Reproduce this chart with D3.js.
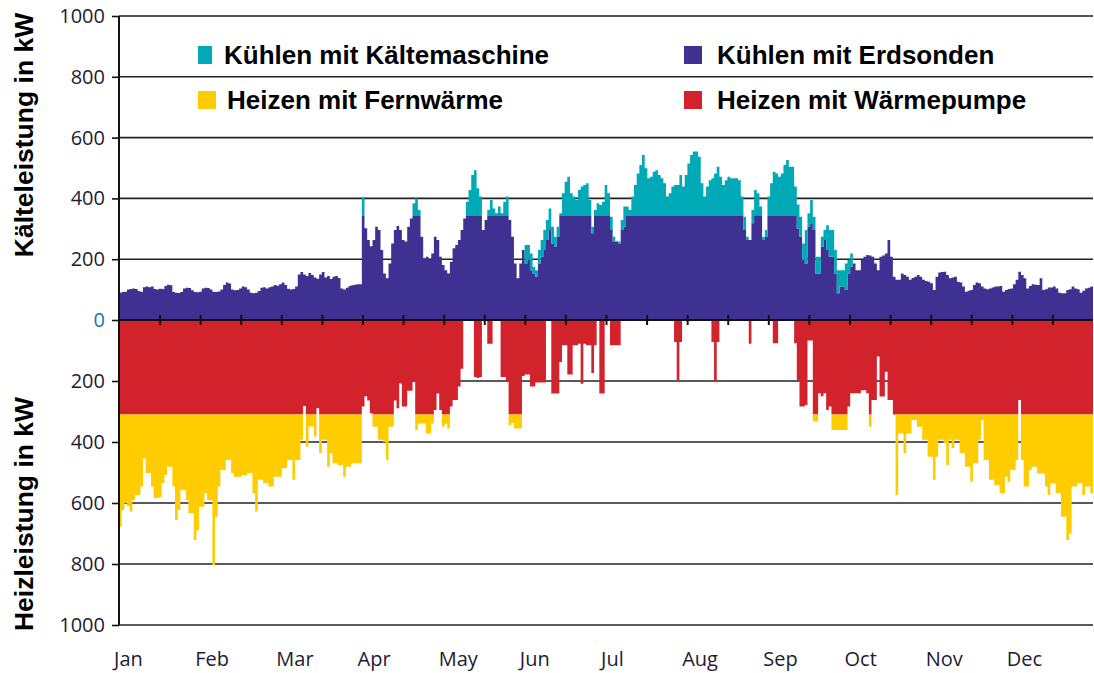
<!DOCTYPE html>
<html>
<head>
<meta charset="utf-8">
<script src="https://cdn.jsdelivr.net/npm/d3@7"></script>
<style>
  body { margin: 0; background: #fff; }
  svg { display: block; }
</style>
</head>
<body>
<svg id="chart"></svg>
<script>
/*
  Kälte- und Heizleistung über das Jahr (Tageswerte, kW)
*/

var months = ["Jan", "Feb", "Mar", "Apr", "May", "Jun", "Jul", "Aug", "Sep", "Oct", "Nov", "Dec"];
var yTicks = [0, 200, 400, 600, 800, 1000];

// Kühlen mit Erdsonden (kW), one value per day
var coolGeo = [
  90,92,93,100,102,104,102,95,93,108,110,108,110,102,100,103,102,112,116,114,92,90,89,92,104,106,105,98,92,91,93,
  104,106,105,100,93,92,94,100,115,123,120,100,98,99,104,110,108,100,90,88,90,95,106,108,104,108,110,115,
  113,118,123,115,103,100,102,110,150,158,150,145,155,148,140,136,150,158,140,145,135,142,145,138,104,100,106,112,114,116,118,
  118,342,302,263,243,263,307,296,230,153,137,186,252,296,309,296,263,258,307,334,342,342,342,274,203,208,197,219,274,263,
  208,181,164,153,192,236,247,263,296,334,342,342,342,342,342,342,296,329,342,342,342,342,342,342,342,342,329,274,186,137,186,
  230,186,197,164,153,142,186,208,230,263,296,252,241,274,342,342,342,342,342,342,342,342,342,342,342,342,285,342,342,342,
  342,342,342,296,258,258,252,296,307,342,342,342,342,342,342,342,342,342,342,342,342,342,342,342,342,342,342,342,342,342,342,
  342,342,342,342,342,342,342,342,342,342,342,342,342,342,342,342,342,342,342,342,342,342,296,263,263,318,342,342,342,263,274,
  342,342,342,342,342,342,342,342,342,342,342,300,274,197,186,307,318,296,153,153,241,263,230,208,208,153,88,110,110,99,
  153,175,186,164,164,197,208,214,212,208,186,164,208,212,219,263,208,142,132,132,153,148,142,132,138,142,148,142,132,128,126,
  121,99,142,156,158,159,148,137,140,142,126,123,110,93,96,99,115,123,121,110,104,101,104,107,110,110,112,93,99,102,
  104,118,132,159,148,137,104,112,118,116,115,137,99,101,107,107,110,104,90,88,88,99,101,110,104,101,90,96,104,106,110
];

// Kühlen mit Kältemaschine (kW), on top of the ground probes
var coolChiller = [
  0,0,0,0,0,0,0,0,0,0,0,0,0,0,0,0,0,0,0,0,0,0,0,0,0,0,0,0,0,0,0,
  0,0,0,0,0,0,0,0,0,0,0,0,0,0,0,0,0,0,0,0,0,0,0,0,0,0,0,0,
  0,0,0,0,0,0,0,0,0,0,0,0,0,0,0,0,0,0,0,0,0,0,0,0,0,0,0,0,0,0,0,
  0,60,0,0,0,0,0,0,0,0,0,0,0,0,0,0,0,0,0,0,42,58,20,0,0,0,0,0,0,0,
  0,0,0,0,0,0,0,0,0,0,47,86,135,151,91,64,0,0,20,53,25,9,31,9,47,64,0,0,0,0,0,
  0,61,50,55,22,22,44,55,66,66,71,55,33,33,9,75,113,129,75,64,53,86,97,102,108,53,22,20,42,36,
  47,102,75,44,16,0,6,33,66,31,20,64,102,140,168,201,157,124,129,146,151,135,124,108,64,75,97,102,102,135,97,
  135,173,201,212,212,195,108,64,97,118,124,140,162,129,102,118,129,124,124,124,118,64,44,11,0,44,86,75,31,11,22,
  64,108,146,140,129,140,168,184,162,162,97,80,66,55,110,44,77,44,55,55,33,33,82,88,88,77,76,54,54,87,
  44,44,0,0,0,0,0,0,0,0,0,0,0,0,0,0,0,0,0,0,0,0,0,0,0,0,0,0,0,0,0,
  0,0,0,0,0,0,0,0,0,0,0,0,0,0,0,0,0,0,0,0,0,0,0,0,0,0,0,0,0,0,
  0,0,0,0,0,0,0,0,0,0,0,0,0,0,0,0,0,0,0,0,0,0,0,0,0,0,0,0,0,0,0
];

// Heizen mit Wärmepumpe (kW)
var heatPump = [
  310,310,310,310,310, 310,310,310,310,310,
  310,310,310,310,310, 310,310,310,310,310,
  310,310,310,310,310, 310,310,310,310,310,
  310,
  310,310,310,310,310, 310,310,310,310,310,
  310,310,310,310,310, 310,310,310,310,310,
  310,310,310,310,310, 310,310,310,
  310,310,310,310,310, 310,310,310,310,310,
  282,310,310,310,310, 289,310,310,310,310,
  310,310,310,310,310, 310,310,310,310,310,
  310,
  310,284,250,264,306, 310,310,310,310,310,
  310,310,310,264,289, 208,284,284,232,232,
  200,310,310,310,310, 310,310,310,295,241,
  295,310,310,310,284, 262,262,218,160,0,
  0,0,0,187,190, 187,0,0,78,78,
  0,0,0,187,187, 200,310,310,310,310,
  310,
  184,179,179,218,218, 205,205,205,205,0,
  0,241,241,241,138, 83,83,179,179,83,
  83,78,209,78,83, 83,174,83,0,241,
  241,0,0,83,83, 83,83,0,0,0,
  0,0,0,0,0, 0,0,0,0,0,
  0,0,0,0,0, 0,0,72,198,72,
  0,
  0,0,0,0,0, 0,0,0,0,0,
  72,203,72,0,0, 0,0,0,0,0,
  0,0,0,0,78, 0,0,0,0,0,
  0,
  0,0,76,76,0, 0,0,0,0,0,
  76,197,284,284,279, 67,67,310,310,240,
  250,240,295,284,310, 310,310,310,310,310,
  284,240,240,240,240, 230,230,240,310,262,
  262,120,251,251,170, 262,262,310,310,310,
  310,310,310,310,310, 310,310,310,310,310,
  310,
  310,310,310,310,310, 310,310,310,310,310,
  310,310,310,310,310, 310,310,310,310,310,
  310,310,310,310,310, 310,310,310,310,310,
  310,310,310,262,310, 310,310,310,310,310,
  310,310,310,310,310, 310,310,310,310,310,
  310,310,310,310,310, 310,310,310,310,310,
  310
];

// Heizen mit Fernwärme (kW), below the heat pump
var heatDistrict = [
  367,313,290,300,318, 280,264,264,236,143,
  192,192,236,274,274, 270,225,198,171,171,
  236,346,313,247,247, 280,324,324,411,379,
  302,
  302,258,280,280,493, 335,236,182,182,149,
  149,192,204,204,204, 198,198,192,192,258,
  318,214,214,225,225, 236,236,204,
  204,204,176,176,149, 149,214,149,149,83,
  0,105,39,39,72, 0,127,83,83,171,
  127,160,160,166,166, 204,171,171,160,160,
  160,
  160,0,0,0,0, 40,40,83,83,90,
  149,40,40,0,0, 0,0,0,0,0,
  0,51,29,29,29, 62,62,29,0,0,
  0,40,30,46,0, 0,0,0,0,0,
  0,0,0,0,0, 0,0,0,0,0,
  0,0,0,0,0, 0,35,28,46,46,
  46,
  0,0,0,0,0, 0,0,0,0,0,
  0,0,0,0,0, 0,0,0,0,0,
  0,0,0,0,0, 0,0,0,0,0,
  0,0,0,0,0, 0,0,0,0,0,
  0,0,0,0,0, 0,0,0,0,0,
  0,0,0,0,0, 0,0,0,0,0,
  0,
  0,0,0,0,0, 0,0,0,0,0,
  0,0,0,0,0, 0,0,0,0,0,
  0,0,0,0,0, 0,0,0,0,0,
  0,
  0,0,0,0,0, 0,0,0,0,0,
  0,0,0,0,0, 0,0,23,23,0,
  0,0,0,0,51, 51,51,51,51,51,
  0,0,0,0,0, 0,0,0,40,0,
  0,0,0,0,0, 0,0,0,264,62,
  62,127,62,62,18, 18,40,40,83,83,
  138,
  138,214,138,83,83, 94,166,83,110,83,
  83,127,127,171,171, 220,160,160,83,18,
  149,149,214,214,231, 231,258,258,204,220,
  182,182,149,0,149, 236,236,182,171,171,
  193,193,193,236,264, 225,225,258,258,335,
  335,411,390,236,236, 225,225,264,236,236,
  258
];

[coolGeo, coolChiller, heatPump, heatDistrict].forEach(function(a, i){
  if (a.length !== 365) throw new Error("series " + i + " has " + a.length + " values");
});

var colors = {geo: "#3e3191", chiller: "#00a9b6", pump: "#d2232c", district: "#ffcc00"};

var W = 1094, H = 673,
    plot = {left: 119, right: 1093, top: 16, zero: 320, bottom: 625};

var svg = d3.select("#chart").attr("width", W).attr("height", H);

var x = d3.scaleLinear().domain([0, 365]).range([plot.left, plot.right]),
    yCool = d3.scaleLinear().domain([0, 1000]).range([plot.zero, plot.top]),
    yHeat = d3.scaleLinear().domain([0, 1000]).range([plot.zero, plot.bottom]);

// gridlines (behind the areas)
var grid = svg.append("g");
[200, 400, 600, 800, 1000].forEach(function(v){
  grid.append("line")
    .attr("x1", plot.left).attr("x2", plot.right)
    .attr("y1", yCool(v)).attr("y2", yCool(v))
    .attr("stroke", v === 1000 ? "#555" : "#222")
    .attr("stroke-width", v === 1000 ? 2 : 1.6);
  grid.append("line")
    .attr("x1", plot.left).attr("x2", plot.right)
    .attr("y1", yHeat(v)).attr("y2", yHeat(v))
    .attr("stroke", "#222")
    .attr("stroke-width", 1.6);
});

// one row per day, last day repeated so that it keeps its width
var rows = d3.range(366).map(function(d){
  var i = Math.min(d, 364);
  return {day: d, geo: coolGeo[i], chiller: coolChiller[i], pump: heatPump[i], district: heatDistrict[i]};
});

var coolStack = d3.stack().keys(["geo", "chiller"])(rows),
    heatStack = d3.stack().keys(["pump", "district"])(rows);

function stepArea(yScale){
  return d3.area()
    .curve(d3.curveStepAfter)
    .x(function(d){ return x(d.data.day); })
    .y0(function(d){ return yScale(d[0]); })
    .y1(function(d){ return yScale(d[1]); });
}

svg.append("g").selectAll("path")
  .data(coolStack)
  .enter().append("path")
    .attr("d", stepArea(yCool))
    .attr("fill", function(s){ return colors[s.key]; });

svg.append("g").selectAll("path")
  .data(heatStack)
  .enter().append("path")
    .attr("d", stepArea(yHeat))
    .attr("fill", function(s){ return colors[s.key]; });

// y axes
var tickFont = "'Open Sans', 'Noto Sans', sans-serif";

var axCool = svg.append("g")
  .attr("transform", "translate(" + plot.left + ",0)")
  .call(d3.axisLeft(yCool).tickValues(yTicks).tickSize(7).tickPadding(7).tickFormat(d3.format("d")));
var axHeat = svg.append("g")
  .attr("transform", "translate(" + plot.left + ",0)")
  .call(d3.axisLeft(yHeat).tickValues(yTicks.slice(1)).tickSize(7).tickPadding(7).tickFormat(d3.format("d")));

[axCool, axHeat].forEach(function(g){
  g.select(".domain").remove();
  g.selectAll("line").attr("stroke", "#111").attr("stroke-width", 1.6);
  g.selectAll("text")
    .style("font-family", tickFont)
    .style("font-size", "20px")
    .attr("fill", "#1e1b33");
});
axCool.selectAll("text").filter(function(d){ return d === 0; }).attr("fill", "#1f6fbd");

// vertical axis line
svg.append("line")
  .attr("x1", plot.left).attr("x2", plot.left)
  .attr("y1", plot.top).attr("y2", plot.bottom)
  .attr("stroke", "#111").attr("stroke-width", 2);

// zero line with half-month ticks
svg.append("line")
  .attr("x1", plot.left).attr("x2", plot.right)
  .attr("y1", plot.zero).attr("y2", plot.zero)
  .attr("stroke", "#111").attr("stroke-width", 2);

var halfMonths = d3.range(1, 24).map(function(i){ return i * 365 / 24; });
var zeroTicks = svg.append("g")
  .attr("transform", "translate(0," + (plot.zero + 5) + ")")
  .call(d3.axisBottom(x).tickValues(halfMonths).tickSize(-10).tickFormat(""));
zeroTicks.select(".domain").remove();
zeroTicks.selectAll("line").attr("stroke", "#111").attr("stroke-width", 2);

// month labels, at the start of each month
var monthScale = d3.scaleBand().domain(months).range([plot.left, plot.right]);
var monthAxis = svg.append("g")
  .attr("transform", "translate(0," + (plot.bottom + 27) + ")")
  .call(d3.axisBottom(monthScale).tickSize(0).tickPadding(0));
monthAxis.select(".domain").remove();
monthAxis.selectAll("text")
  .attr("x", -monthScale.bandwidth() / 2 - 5)
  .style("text-anchor", "start")
  .style("font-family", tickFont)
  .style("font-size", "20px")
  .attr("fill", "#1e1b33");

// axis titles
var boldFont = "'Liberation Sans', Arial, sans-serif";
svg.append("text")
  .attr("transform", "translate(33,135) rotate(-90)")
  .style("text-anchor", "middle")
  .style("font-family", boldFont)
  .style("font-weight", "bold")
  .style("font-size", "26.5px")
  .text("Kälteleistung in kW");

svg.append("text")
  .attr("transform", "translate(33,514) rotate(-90)")
  .style("text-anchor", "middle")
  .style("font-family", boldFont)
  .style("font-weight", "bold")
  .style("font-size", "26.5px")
  .text("Heizleistung in kW");

// legend
var legendItems = [
  {label: "Kühlen mit Kältemaschine", key: "chiller"},
  {label: "Kühlen mit Erdsonden", key: "geo"},
  {label: "Heizen mit Fernwärme", key: "district"},
  {label: "Heizen mit Wärmepumpe", key: "pump"}
];

var legend = svg.append("g").selectAll("g")
  .data(legendItems)
  .enter().append("g")
    .attr("transform", function(d, i){
      return "translate(" + (i % 2 === 0 ? 198 : 684) + "," + (i < 2 ? 46 : 91) + ")";
    });

legend.append("rect")
  .attr("width", function(d){ return d.key === "chiller" ? 14 : 18; })
  .attr("height", 18)
  .attr("fill", function(d){ return colors[d.key]; });

legend.append("text")
  .attr("x", function(d, i){ return i % 2 === 0 ? (d.key === "chiller" ? 26 : 29) : 33; })
  .attr("y", 18)
  .style("font-family", boldFont)
  .style("font-weight", "bold")
  .style("font-size", "26px")
  .attr("fill", "#000")
  .text(function(d){ return d.label; });
</script>
</body>
</html>
